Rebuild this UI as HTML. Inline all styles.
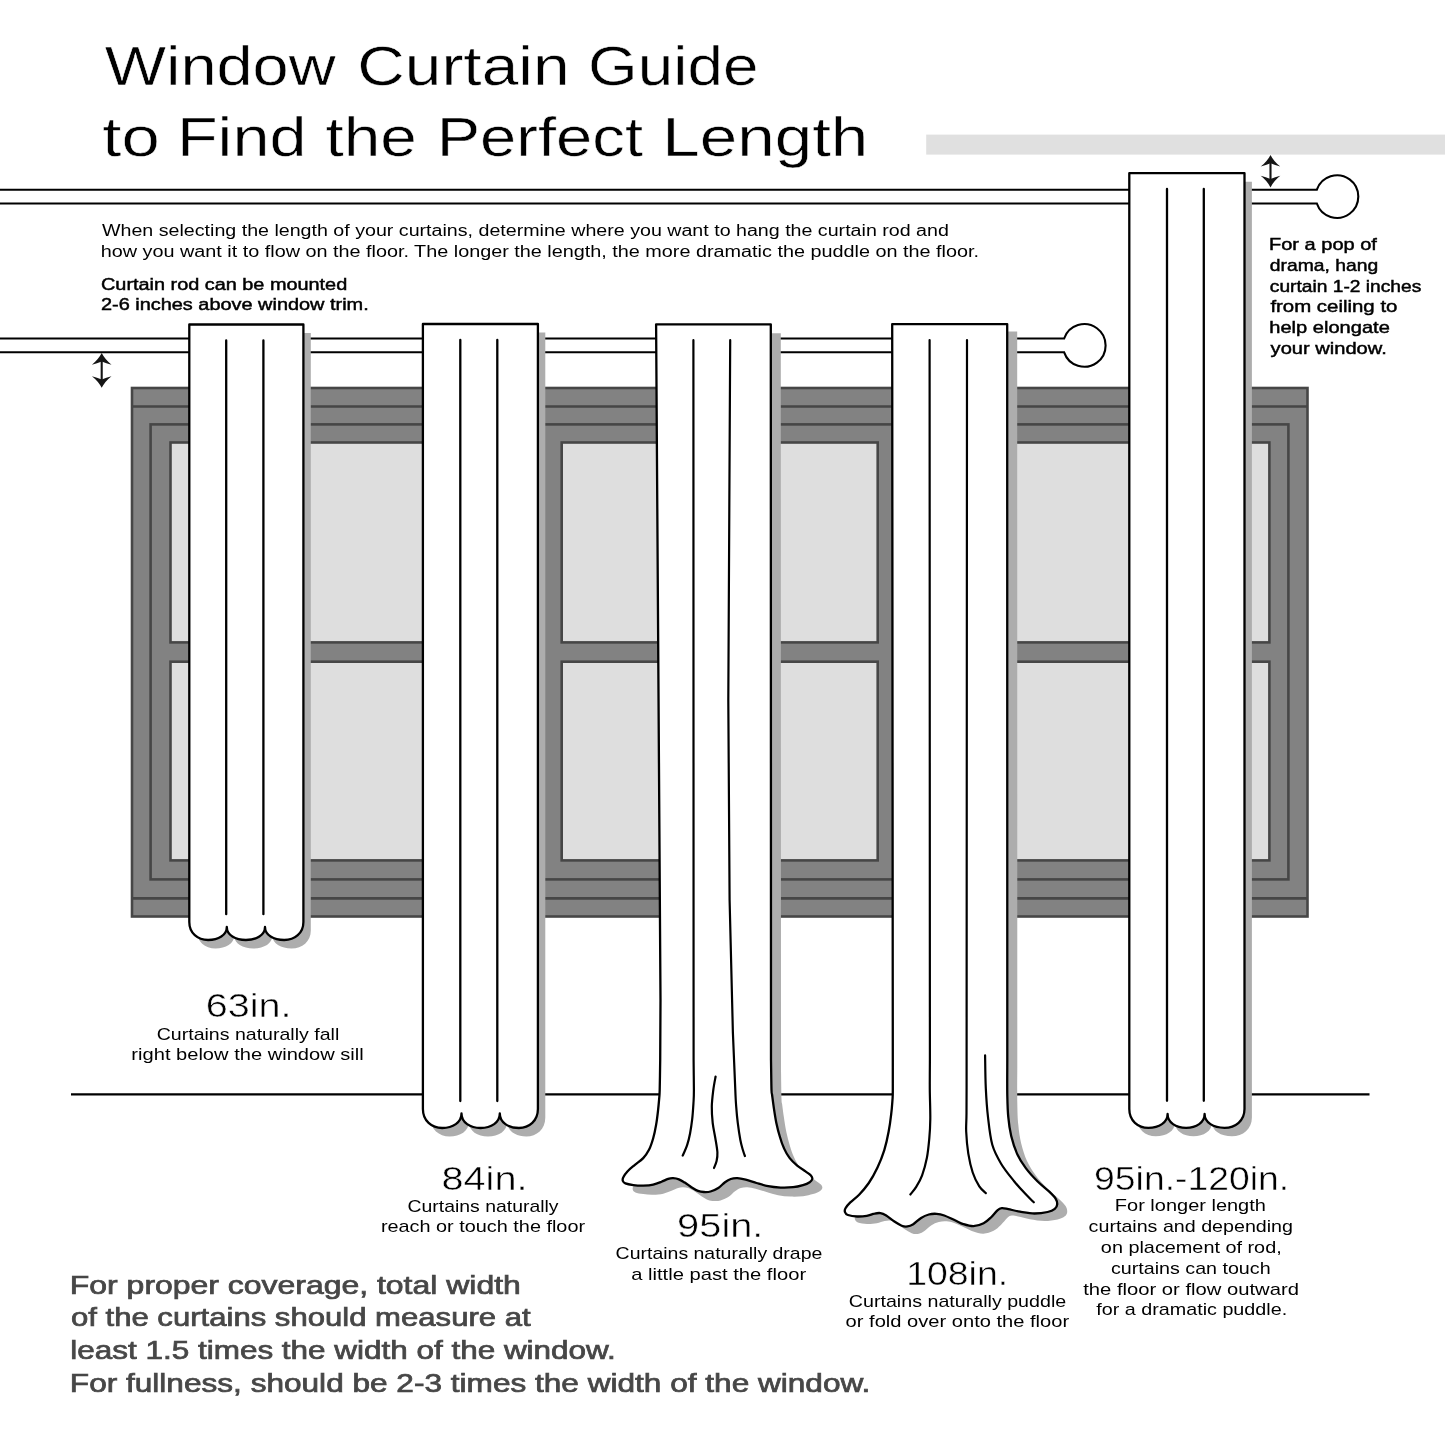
<!DOCTYPE html>
<html><head><meta charset="utf-8"><title>Window Curtain Guide</title>
<style>
html,body{margin:0;padding:0;background:#fff}
body{width:1445px;height:1445px;overflow:hidden}
svg{display:block;will-change:transform}
text{font-family:"Liberation Sans",sans-serif}
</style></head><body>
<svg width="1445" height="1445" viewBox="0 0 1445 1445">
<rect width="1445" height="1445" fill="#fff"/>
<rect x="926.2" y="134.6" width="520" height="20" fill="#e0e0e0"/>
<g fill="#828282" stroke="#464646" stroke-width="2.6">
<rect x="132" y="388" width="1175.5" height="528.5"/>
<path d="M132,406.5 H1307.5 M132,898.4 H1307.5" fill="none"/>
<rect x="150.6" y="424.4" width="1137.8" height="455.0"/>
</g>
<g fill="#dedede" stroke="#464646" stroke-width="2.6">
<rect x="170.5" y="442.5" width="370.5" height="199.9"/>
<rect x="170.5" y="661.7" width="370.5" height="198.7"/>
<rect x="561.7" y="442.5" width="316.0" height="199.9"/>
<rect x="561.7" y="661.7" width="316.0" height="198.7"/>
<rect x="898.0" y="442.5" width="371.4" height="199.9"/>
<rect x="898.0" y="661.7" width="371.4" height="198.7"/>
</g>
<path d="M71,1094.4 H1369.5" stroke="#000" stroke-width="2.1" fill="none"/>
<path d="M-5,189.7 H1316.85 A21.3,21.3 0 1 1 1316.85,203.5 H-5" fill="#fff" stroke="#000" stroke-width="2.1"/>
<path d="M-5,338.5 H1064.15 A21.3,21.3 0 1 1 1064.15,352.3 H-5" fill="#fff" stroke="#000" stroke-width="2.1"/>
<path d="M189.3,324.5 V922.0 C189.3,933.2 197.7,940.0 208.1,940.0 C218.4,940.0 226.8,935.1 226.8,927.0 C226.8,935.1 235.4,940.0 245.9,940.0 C256.4,940.0 265.0,935.1 265.0,927.0 C265.0,935.1 273.6,940.0 284.2,940.0 C294.8,940.0 303.4,933.2 303.4,922.0 V324.5 Z" fill="#adadad" transform="translate(7.4,8.5)"/>
<path d="M189.3,324.5 V922.0 C189.3,933.2 197.7,940.0 208.1,940.0 C218.4,940.0 226.8,935.1 226.8,927.0 C226.8,935.1 235.4,940.0 245.9,940.0 C256.4,940.0 265.0,935.1 265.0,927.0 C265.0,935.1 273.6,940.0 284.2,940.0 C294.8,940.0 303.4,933.2 303.4,922.0 V324.5 Z" fill="#fff" stroke="#000" stroke-width="2.3" stroke-linejoin="round"/>
<path d="M226.2,340.4 V914.2 M263.4,340.4 V914.2" fill="none" stroke="#000" stroke-width="2.3" stroke-linecap="round"/>
<path d="M422.9,324.0 V1109.0 C422.9,1120.8 431.6,1128.0 442.2,1128.0 C452.8,1128.0 461.5,1122.5 461.5,1113.5 C461.5,1122.5 470.1,1128.0 480.6,1128.0 C491.2,1128.0 499.8,1122.5 499.8,1113.5 C499.8,1122.5 508.4,1128.0 518.9,1128.0 C529.3,1128.0 537.9,1120.8 537.9,1109.0 V324.0 Z" fill="#adadad" transform="translate(7.4,8.5)"/>
<path d="M422.9,324.0 V1109.0 C422.9,1120.8 431.6,1128.0 442.2,1128.0 C452.8,1128.0 461.5,1122.5 461.5,1113.5 C461.5,1122.5 470.1,1128.0 480.6,1128.0 C491.2,1128.0 499.8,1122.5 499.8,1113.5 C499.8,1122.5 508.4,1128.0 518.9,1128.0 C529.3,1128.0 537.9,1120.8 537.9,1109.0 V324.0 Z" fill="#fff" stroke="#000" stroke-width="2.3" stroke-linejoin="round"/>
<path d="M460.3,340.0 V1101.0 M497.3,340.0 V1101.0" fill="none" stroke="#000" stroke-width="2.3" stroke-linecap="round"/>
<path d="M656.1,324.3 H770.8 L771,1060 C771.1,1065.0 771.3,1084.2 771.5,1090.0 C771.7,1095.8 771.7,1092.0 772.1,1095.0 C772.5,1098.0 773.2,1103.6 773.9,1108.3 C774.6,1113.0 775.4,1118.5 776.4,1123.2 C777.4,1127.9 778.5,1132.3 779.8,1136.5 C781.0,1140.7 782.2,1144.5 783.9,1148.1 C785.5,1151.7 787.5,1155.2 789.7,1158.1 C791.9,1161.0 794.6,1163.4 797.2,1165.6 C799.8,1167.8 803.2,1169.8 805.5,1171.4 C807.8,1173.1 809.8,1174.2 810.9,1175.5 C812.0,1176.8 812.5,1177.8 812.3,1178.9 C812.1,1180.0 811.2,1181.2 809.7,1182.2 C808.2,1183.2 805.8,1184.3 803.0,1185.1 C800.2,1185.9 796.8,1186.8 793.1,1187.2 C789.4,1187.6 784.8,1187.8 780.6,1187.6 C776.4,1187.4 772.1,1187.0 768.1,1186.2 C764.1,1185.4 760.2,1184.1 756.5,1183.0 C752.8,1181.9 748.9,1180.5 745.7,1179.7 C742.5,1178.9 739.9,1178.3 737.4,1178.2 C734.9,1178.1 732.9,1178.3 730.8,1179.0 C728.7,1179.7 727.1,1180.7 725.0,1182.2 C722.9,1183.7 720.7,1186.5 718.3,1188.0 C715.9,1189.5 712.9,1190.8 710.5,1191.5 C708.1,1192.2 706.0,1192.1 703.9,1192.0 C701.8,1191.9 700.1,1191.7 698.0,1190.9 C695.9,1190.1 693.6,1188.6 691.4,1187.2 C689.2,1185.8 686.9,1183.9 684.8,1182.6 C682.7,1181.3 680.8,1180.0 678.9,1179.3 C677.0,1178.6 674.9,1178.3 673.1,1178.2 C671.3,1178.1 670.0,1178.3 668.1,1178.9 C666.2,1179.5 664.0,1180.8 661.5,1181.8 C659.0,1182.8 656.2,1184.0 653.2,1184.7 C650.2,1185.4 646.5,1185.6 643.2,1185.7 C639.9,1185.8 636.3,1185.5 633.3,1185.1 C630.3,1184.7 627.1,1184.1 625.4,1183.4 C623.7,1182.7 623.2,1182.0 622.9,1181.0 C622.5,1180.0 622.5,1178.8 623.3,1177.2 C624.0,1175.6 625.5,1173.5 627.4,1171.4 C629.3,1169.3 632.3,1167.0 634.9,1164.8 C637.5,1162.6 640.9,1160.6 643.2,1158.1 C645.6,1155.6 647.3,1153.1 649.0,1149.8 C650.7,1146.5 652.0,1142.3 653.2,1138.2 C654.4,1134.1 655.3,1129.5 656.1,1124.9 C656.9,1120.3 657.5,1115.2 658.0,1110.8 C658.5,1106.4 658.9,1101.8 659.2,1098.3 C659.5,1094.8 659.5,1096.4 659.7,1090.0 C659.9,1083.6 660.1,1065.0 660.2,1060.0 L660.5,1000 Z" fill="#adadad" transform="translate(10,9)"/>
<path d="M656.1,324.3 H770.8 L771,1060 C771.1,1065.0 771.3,1084.2 771.5,1090.0 C771.7,1095.8 771.7,1092.0 772.1,1095.0 C772.5,1098.0 773.2,1103.6 773.9,1108.3 C774.6,1113.0 775.4,1118.5 776.4,1123.2 C777.4,1127.9 778.5,1132.3 779.8,1136.5 C781.0,1140.7 782.2,1144.5 783.9,1148.1 C785.5,1151.7 787.5,1155.2 789.7,1158.1 C791.9,1161.0 794.6,1163.4 797.2,1165.6 C799.8,1167.8 803.2,1169.8 805.5,1171.4 C807.8,1173.1 809.8,1174.2 810.9,1175.5 C812.0,1176.8 812.5,1177.8 812.3,1178.9 C812.1,1180.0 811.2,1181.2 809.7,1182.2 C808.2,1183.2 805.8,1184.3 803.0,1185.1 C800.2,1185.9 796.8,1186.8 793.1,1187.2 C789.4,1187.6 784.8,1187.8 780.6,1187.6 C776.4,1187.4 772.1,1187.0 768.1,1186.2 C764.1,1185.4 760.2,1184.1 756.5,1183.0 C752.8,1181.9 748.9,1180.5 745.7,1179.7 C742.5,1178.9 739.9,1178.3 737.4,1178.2 C734.9,1178.1 732.9,1178.3 730.8,1179.0 C728.7,1179.7 727.1,1180.7 725.0,1182.2 C722.9,1183.7 720.7,1186.5 718.3,1188.0 C715.9,1189.5 712.9,1190.8 710.5,1191.5 C708.1,1192.2 706.0,1192.1 703.9,1192.0 C701.8,1191.9 700.1,1191.7 698.0,1190.9 C695.9,1190.1 693.6,1188.6 691.4,1187.2 C689.2,1185.8 686.9,1183.9 684.8,1182.6 C682.7,1181.3 680.8,1180.0 678.9,1179.3 C677.0,1178.6 674.9,1178.3 673.1,1178.2 C671.3,1178.1 670.0,1178.3 668.1,1178.9 C666.2,1179.5 664.0,1180.8 661.5,1181.8 C659.0,1182.8 656.2,1184.0 653.2,1184.7 C650.2,1185.4 646.5,1185.6 643.2,1185.7 C639.9,1185.8 636.3,1185.5 633.3,1185.1 C630.3,1184.7 627.1,1184.1 625.4,1183.4 C623.7,1182.7 623.2,1182.0 622.9,1181.0 C622.5,1180.0 622.5,1178.8 623.3,1177.2 C624.0,1175.6 625.5,1173.5 627.4,1171.4 C629.3,1169.3 632.3,1167.0 634.9,1164.8 C637.5,1162.6 640.9,1160.6 643.2,1158.1 C645.6,1155.6 647.3,1153.1 649.0,1149.8 C650.7,1146.5 652.0,1142.3 653.2,1138.2 C654.4,1134.1 655.3,1129.5 656.1,1124.9 C656.9,1120.3 657.5,1115.2 658.0,1110.8 C658.5,1106.4 658.9,1101.8 659.2,1098.3 C659.5,1094.8 659.5,1096.4 659.7,1090.0 C659.9,1083.6 660.1,1065.0 660.2,1060.0 L660.5,1000 Z" fill="#fff" stroke="#000" stroke-width="2.3" stroke-linejoin="round"/>
<g fill="none" stroke="#000" stroke-width="2.2" stroke-linecap="round">
<path d="M693.4,340.2 L693.6,1060 C693.6,1065.0 693.9,1082.9 693.9,1090.0 C693.9,1097.1 693.8,1097.7 693.5,1102.5 C693.2,1107.3 692.8,1114.0 692.2,1119.1 C691.6,1124.2 690.9,1128.9 690.1,1133.2 C689.3,1137.5 688.4,1141.1 687.2,1144.8 C686.0,1148.5 683.5,1153.8 682.7,1155.6"/>
<path d="M730.2,340.2 L728.3,700 L729.6,900 L732.9,1032.9 C733.3,1042.4 734.8,1077.7 735.3,1090.0 C735.8,1102.3 735.8,1101.1 736.2,1106.6 C736.6,1112.1 737.1,1117.7 737.8,1123.2 C738.5,1128.7 739.5,1135.4 740.3,1139.8 C741.1,1144.2 742.0,1147.1 742.8,1149.8 C743.6,1152.5 744.5,1155.0 744.9,1156.0"/>
<path d="M715.6,1076.5 C715.2,1078.8 713.9,1085.0 713.3,1090.0 C712.7,1095.0 711.9,1101.1 711.8,1106.6 C711.7,1112.1 712.1,1117.8 712.7,1123.0 C713.3,1128.2 714.5,1133.1 715.3,1138.0 C716.1,1142.9 717.2,1148.5 717.4,1152.3 C717.6,1156.1 717.2,1158.4 716.6,1161.0 C716.0,1163.6 714.4,1166.8 714.0,1168.0"/>
</g>
<path d="M892.2,324.1 H1007.2 L1007.3,1060 C1007.3,1065.9 1007.1,1085.9 1007.3,1095.4 C1007.5,1104.9 1007.6,1110.4 1008.3,1117.2 C1008.9,1124.0 1009.8,1130.0 1011.2,1136.1 C1012.7,1142.2 1014.6,1148.3 1017.0,1153.6 C1019.4,1158.9 1022.4,1163.5 1025.8,1168.1 C1029.2,1172.7 1033.5,1177.3 1037.4,1181.2 C1041.3,1185.1 1046.0,1188.5 1049.0,1191.4 C1052.0,1194.3 1054.2,1196.4 1055.6,1198.6 C1057.0,1200.8 1057.3,1202.7 1057.2,1204.4 C1057.1,1206.1 1056.4,1207.5 1054.8,1208.8 C1053.2,1210.1 1051.0,1211.2 1047.6,1212.0 C1044.2,1212.8 1039.1,1213.5 1034.5,1213.5 C1029.9,1213.5 1024.4,1212.4 1020.0,1211.7 C1015.6,1211.0 1011.3,1209.7 1008.3,1209.1 C1005.3,1208.5 1003.6,1207.9 1001.8,1208.1 C1000.0,1208.3 999.2,1208.7 997.4,1210.3 C995.6,1211.9 993.2,1215.3 990.9,1217.5 C988.6,1219.7 986.5,1221.8 983.6,1223.3 C980.7,1224.8 976.8,1226.1 973.4,1226.2 C970.0,1226.3 966.4,1225.1 963.3,1224.1 C960.2,1223.1 958.2,1221.7 955.0,1220.3 C951.8,1218.9 947.4,1216.6 944.3,1215.5 C941.2,1214.4 939.2,1214.0 936.6,1213.8 C934.0,1213.6 931.4,1213.8 928.8,1214.5 C926.2,1215.2 923.7,1216.3 921.1,1217.9 C918.5,1219.5 915.6,1222.8 913.3,1224.2 C911.0,1225.6 909.4,1226.2 907.5,1226.4 C905.6,1226.7 904.0,1226.6 901.7,1225.7 C899.5,1224.8 896.6,1223.0 894.0,1221.3 C891.4,1219.6 888.5,1216.9 886.2,1215.5 C883.9,1214.1 882.3,1213.4 880.4,1213.1 C878.5,1212.8 876.9,1213.1 874.6,1213.6 C872.3,1214.0 869.7,1215.3 866.8,1215.8 C863.9,1216.3 860.2,1216.6 857.1,1216.5 C854.0,1216.4 849.9,1215.7 847.9,1215.0 C845.9,1214.3 845.4,1213.2 845.0,1212.1 C844.6,1211.0 844.6,1209.8 845.5,1208.2 C846.4,1206.6 848.0,1204.7 850.3,1202.4 C852.6,1200.2 856.0,1197.9 859.1,1194.7 C862.2,1191.5 865.7,1187.5 868.8,1183.0 C871.9,1178.5 874.9,1173.0 877.5,1167.5 C880.1,1162.0 882.4,1156.1 884.3,1150.1 C886.1,1144.1 887.5,1137.7 888.6,1131.7 C889.8,1125.7 890.6,1119.5 891.2,1114.2 C891.9,1108.9 892.2,1103.7 892.5,1099.7 C892.8,1095.7 892.8,1096.6 892.8,1090.0 C892.8,1083.4 892.8,1065.0 892.8,1060.0 Z" fill="#adadad" transform="translate(10,7.5)"/>
<path d="M892.2,324.1 H1007.2 L1007.3,1060 C1007.3,1065.9 1007.1,1085.9 1007.3,1095.4 C1007.5,1104.9 1007.6,1110.4 1008.3,1117.2 C1008.9,1124.0 1009.8,1130.0 1011.2,1136.1 C1012.7,1142.2 1014.6,1148.3 1017.0,1153.6 C1019.4,1158.9 1022.4,1163.5 1025.8,1168.1 C1029.2,1172.7 1033.5,1177.3 1037.4,1181.2 C1041.3,1185.1 1046.0,1188.5 1049.0,1191.4 C1052.0,1194.3 1054.2,1196.4 1055.6,1198.6 C1057.0,1200.8 1057.3,1202.7 1057.2,1204.4 C1057.1,1206.1 1056.4,1207.5 1054.8,1208.8 C1053.2,1210.1 1051.0,1211.2 1047.6,1212.0 C1044.2,1212.8 1039.1,1213.5 1034.5,1213.5 C1029.9,1213.5 1024.4,1212.4 1020.0,1211.7 C1015.6,1211.0 1011.3,1209.7 1008.3,1209.1 C1005.3,1208.5 1003.6,1207.9 1001.8,1208.1 C1000.0,1208.3 999.2,1208.7 997.4,1210.3 C995.6,1211.9 993.2,1215.3 990.9,1217.5 C988.6,1219.7 986.5,1221.8 983.6,1223.3 C980.7,1224.8 976.8,1226.1 973.4,1226.2 C970.0,1226.3 966.4,1225.1 963.3,1224.1 C960.2,1223.1 958.2,1221.7 955.0,1220.3 C951.8,1218.9 947.4,1216.6 944.3,1215.5 C941.2,1214.4 939.2,1214.0 936.6,1213.8 C934.0,1213.6 931.4,1213.8 928.8,1214.5 C926.2,1215.2 923.7,1216.3 921.1,1217.9 C918.5,1219.5 915.6,1222.8 913.3,1224.2 C911.0,1225.6 909.4,1226.2 907.5,1226.4 C905.6,1226.7 904.0,1226.6 901.7,1225.7 C899.5,1224.8 896.6,1223.0 894.0,1221.3 C891.4,1219.6 888.5,1216.9 886.2,1215.5 C883.9,1214.1 882.3,1213.4 880.4,1213.1 C878.5,1212.8 876.9,1213.1 874.6,1213.6 C872.3,1214.0 869.7,1215.3 866.8,1215.8 C863.9,1216.3 860.2,1216.6 857.1,1216.5 C854.0,1216.4 849.9,1215.7 847.9,1215.0 C845.9,1214.3 845.4,1213.2 845.0,1212.1 C844.6,1211.0 844.6,1209.8 845.5,1208.2 C846.4,1206.6 848.0,1204.7 850.3,1202.4 C852.6,1200.2 856.0,1197.9 859.1,1194.7 C862.2,1191.5 865.7,1187.5 868.8,1183.0 C871.9,1178.5 874.9,1173.0 877.5,1167.5 C880.1,1162.0 882.4,1156.1 884.3,1150.1 C886.1,1144.1 887.5,1137.7 888.6,1131.7 C889.8,1125.7 890.6,1119.5 891.2,1114.2 C891.9,1108.9 892.2,1103.7 892.5,1099.7 C892.8,1095.7 892.8,1096.6 892.8,1090.0 C892.8,1083.4 892.8,1065.0 892.8,1060.0 Z" fill="#fff" stroke="#000" stroke-width="2.3" stroke-linejoin="round"/>
<g fill="none" stroke="#000" stroke-width="2.2" stroke-linecap="round">
<path d="M929.6,340 L929.9,1060 C929.9,1065.0 929.7,1080.2 929.8,1090.0 C929.9,1099.8 930.4,1111.0 930.3,1119.1 C930.2,1127.2 929.9,1132.0 929.3,1138.4 C928.7,1144.9 928.1,1151.7 926.9,1157.8 C925.7,1163.9 923.9,1170.4 922.1,1175.3 C920.3,1180.2 918.2,1183.7 916.2,1186.9 C914.2,1190.1 911.4,1193.2 910.4,1194.5"/>
<path d="M967,340 L966.6,1060 C966.6,1068.8 966.6,1100.9 966.5,1112.9 C966.4,1124.9 965.9,1125.0 966.2,1131.8 C966.5,1138.6 967.2,1146.8 968.3,1153.6 C969.4,1160.4 970.9,1167.0 972.7,1172.5 C974.5,1178.0 977.1,1182.9 979.3,1186.3 C981.5,1189.7 984.7,1192.0 985.8,1193.1"/>
<path d="M985.1,1055.4 C985.2,1060.9 985.3,1077.8 985.8,1088.1 C986.3,1098.4 986.9,1107.8 988.0,1117.2 C989.1,1126.7 990.1,1137.0 992.3,1144.8 C994.5,1152.5 997.5,1157.6 1001.1,1163.7 C1004.7,1169.8 1010.0,1176.1 1014.1,1181.2 C1018.2,1186.3 1022.5,1190.8 1025.8,1194.3 C1029.1,1197.8 1032.5,1201.0 1033.8,1202.3"/>
</g>
<path d="M1129.3,173.2 V1109.0 C1129.3,1120.7 1137.9,1127.8 1148.4,1127.8 C1159.0,1127.8 1167.6,1122.6 1167.6,1114.0 C1167.6,1122.6 1175.9,1127.8 1186.1,1127.8 C1196.3,1127.8 1204.6,1122.6 1204.6,1114.0 C1204.6,1122.6 1213.6,1127.8 1224.5,1127.8 C1235.5,1127.8 1244.5,1120.7 1244.5,1109.0 V173.2 Z" fill="#adadad" transform="translate(7.4,8.5)"/>
<path d="M1129.3,173.2 V1109.0 C1129.3,1120.7 1137.9,1127.8 1148.4,1127.8 C1159.0,1127.8 1167.6,1122.6 1167.6,1114.0 C1167.6,1122.6 1175.9,1127.8 1186.1,1127.8 C1196.3,1127.8 1204.6,1122.6 1204.6,1114.0 C1204.6,1122.6 1213.6,1127.8 1224.5,1127.8 C1235.5,1127.8 1244.5,1120.7 1244.5,1109.0 V173.2 Z" fill="#fff" stroke="#000" stroke-width="2.3" stroke-linejoin="round"/>
<path d="M1167.0,189.0 V1100.8 M1203.8,189.0 V1100.8" fill="none" stroke="#000" stroke-width="2.3" stroke-linecap="round"/>
<path d="M101.7,357.1 V383.8" stroke="#151515" stroke-width="2.1" fill="none"/><path d="M101.7,353.1 Q105.1,359.7 111.5,364.7 Q106.2,363.2 101.7,361.4 Q97.2,363.2 91.9,364.7 Q98.3,359.7 101.7,353.1 Z M101.7,387.8 Q105.1,381.2 111.5,376.2 Q106.2,377.7 101.7,379.5 Q97.2,377.7 91.9,376.2 Q98.3,381.2 101.7,387.8 Z" fill="#151515"/>
<path d="M1270.5,159.0 V183.4" stroke="#151515" stroke-width="2.1" fill="none"/><path d="M1270.5,155.0 Q1273.9,161.6 1280.3,166.6 Q1275.0,165.1 1270.5,163.3 Q1266.0,165.1 1260.7,166.6 Q1267.1,161.6 1270.5,155.0 Z M1270.5,187.4 Q1273.9,180.8 1280.3,175.8 Q1275.0,177.3 1270.5,179.1 Q1266.0,177.3 1260.7,175.8 Q1267.1,180.8 1270.5,187.4 Z" fill="#151515"/>
<g opacity="0.996">
<text x="104.70" y="85.4" font-size="55.6" fill="#000" textLength="230.89" lengthAdjust="spacingAndGlyphs" stroke="#fff" stroke-width="0.50">Window</text>
<text x="357.21" y="85.4" font-size="55.6" fill="#000" textLength="212.36" lengthAdjust="spacingAndGlyphs" stroke="#fff" stroke-width="0.50">Curtain</text>
<text x="588.11" y="85.4" font-size="55.6" fill="#000" textLength="170.37" lengthAdjust="spacingAndGlyphs" stroke="#fff" stroke-width="0.50">Guide</text>
<text x="102.27" y="156.0" font-size="55.6" fill="#000" textLength="57.42" lengthAdjust="spacingAndGlyphs" stroke="#fff" stroke-width="0.50">to</text>
<text x="176.98" y="156.0" font-size="55.6" fill="#000" textLength="129.44" lengthAdjust="spacingAndGlyphs" stroke="#fff" stroke-width="0.50">Find</text>
<text x="325.51" y="156.0" font-size="55.6" fill="#000" textLength="91.43" lengthAdjust="spacingAndGlyphs" stroke="#fff" stroke-width="0.50">the</text>
<text x="436.69" y="156.0" font-size="55.6" fill="#000" textLength="206.31" lengthAdjust="spacingAndGlyphs" stroke="#fff" stroke-width="0.50">Perfect</text>
<text x="662.31" y="156.0" font-size="55.6" fill="#000" textLength="206.04" lengthAdjust="spacingAndGlyphs" stroke="#fff" stroke-width="0.50">Length</text>
<text x="102.00" y="236.0" font-size="16.0" fill="#000" textLength="846.83" lengthAdjust="spacingAndGlyphs">When selecting the length of your curtains, determine where you want to hang the curtain rod and</text>
<text x="100.71" y="256.6" font-size="16.0" fill="#000" textLength="878.23" lengthAdjust="spacingAndGlyphs">how you want it to flow on the floor. The longer the length, the more dramatic the puddle on the floor.</text>
<text x="101.01" y="289.7" font-size="16.0" fill="#000" textLength="246.22" lengthAdjust="spacingAndGlyphs" stroke="#000" stroke-width="0.45">Curtain rod can be mounted</text>
<text x="101.00" y="309.9" font-size="16.0" fill="#000" textLength="267.71" lengthAdjust="spacingAndGlyphs" stroke="#000" stroke-width="0.45">2-6 inches above window trim.</text>
<text x="1269.00" y="250.0" font-size="16.2" fill="#000" textLength="107.95" lengthAdjust="spacingAndGlyphs" stroke="#000" stroke-width="0.45">For a pop of</text>
<text x="1269.83" y="270.8" font-size="16.2" fill="#000" textLength="108.33" lengthAdjust="spacingAndGlyphs" stroke="#000" stroke-width="0.45">drama, hang</text>
<text x="1269.83" y="291.6" font-size="16.2" fill="#000" textLength="151.41" lengthAdjust="spacingAndGlyphs" stroke="#000" stroke-width="0.45">curtain 1-2 inches</text>
<text x="1270.40" y="312.4" font-size="16.2" fill="#000" textLength="127.02" lengthAdjust="spacingAndGlyphs" stroke="#000" stroke-width="0.45">from ceiling to</text>
<text x="1269.30" y="333.3" font-size="16.2" fill="#000" textLength="120.52" lengthAdjust="spacingAndGlyphs" stroke="#000" stroke-width="0.45">help elongate</text>
<text x="1270.60" y="354.0" font-size="16.2" fill="#000" textLength="116.13" lengthAdjust="spacingAndGlyphs" stroke="#000" stroke-width="0.45">your window.</text>
<text x="205.72" y="1017.1" font-size="34.0" fill="#000" textLength="85.78" lengthAdjust="spacingAndGlyphs" stroke="#fff" stroke-width="0.50">63in.</text>
<text x="156.72" y="1039.5" font-size="16.4" fill="#000" textLength="182.50" lengthAdjust="spacingAndGlyphs">Curtains naturally fall</text>
<text x="131.39" y="1059.7" font-size="16.4" fill="#000" textLength="232.34" lengthAdjust="spacingAndGlyphs">right below the window sill</text>
<text x="441.51" y="1190.4" font-size="34.0" fill="#000" textLength="86.00" lengthAdjust="spacingAndGlyphs" stroke="#fff" stroke-width="0.50">84in.</text>
<text x="407.53" y="1211.8" font-size="16.4" fill="#000" textLength="151.00" lengthAdjust="spacingAndGlyphs">Curtains naturally</text>
<text x="380.91" y="1232.0" font-size="16.4" fill="#000" textLength="204.17" lengthAdjust="spacingAndGlyphs">reach or touch the floor</text>
<text x="677.11" y="1237.4" font-size="34.0" fill="#000" textLength="86.31" lengthAdjust="spacingAndGlyphs" stroke="#fff" stroke-width="0.50">95in.</text>
<text x="615.63" y="1259.2" font-size="16.4" fill="#000" textLength="206.69" lengthAdjust="spacingAndGlyphs">Curtains naturally drape</text>
<text x="631.19" y="1280.0" font-size="16.4" fill="#000" textLength="174.94" lengthAdjust="spacingAndGlyphs">a little past the floor</text>
<text x="906.19" y="1285.2" font-size="34.0" fill="#000" textLength="101.96" lengthAdjust="spacingAndGlyphs" stroke="#fff" stroke-width="0.50">108in.</text>
<text x="848.82" y="1307.0" font-size="16.4" fill="#000" textLength="217.41" lengthAdjust="spacingAndGlyphs">Curtains naturally puddle</text>
<text x="845.60" y="1327.4" font-size="16.4" fill="#000" textLength="223.56" lengthAdjust="spacingAndGlyphs">or fold over onto the floor</text>
<text x="1094.12" y="1189.9" font-size="34.0" fill="#000" textLength="195.00" lengthAdjust="spacingAndGlyphs" stroke="#fff" stroke-width="0.50">95in.-120in.</text>
<text x="1114.87" y="1211.3" font-size="16.4" fill="#000" textLength="151.04" lengthAdjust="spacingAndGlyphs">For longer length</text>
<text x="1088.63" y="1232.2" font-size="16.4" fill="#000" textLength="204.36" lengthAdjust="spacingAndGlyphs">curtains and depending</text>
<text x="1100.85" y="1253.0" font-size="16.4" fill="#000" textLength="180.87" lengthAdjust="spacingAndGlyphs">on placement of rod,</text>
<text x="1110.98" y="1273.6" font-size="16.4" fill="#000" textLength="159.63" lengthAdjust="spacingAndGlyphs">curtains can touch</text>
<text x="1083.23" y="1294.6" font-size="16.4" fill="#000" textLength="215.68" lengthAdjust="spacingAndGlyphs">the floor or flow outward</text>
<text x="1096.27" y="1314.8" font-size="16.4" fill="#000" textLength="190.86" lengthAdjust="spacingAndGlyphs">for a dramatic puddle.</text>
<text x="69.84" y="1293.5" font-size="26.0" fill="#474747" textLength="450.98" lengthAdjust="spacingAndGlyphs" stroke="#474747" stroke-width="0.73">For proper coverage, total width</text>
<text x="70.96" y="1326.4" font-size="26.0" fill="#474747" textLength="459.69" lengthAdjust="spacingAndGlyphs" stroke="#474747" stroke-width="0.73">of the curtains should measure at</text>
<text x="70.36" y="1359.2" font-size="26.0" fill="#474747" textLength="545.41" lengthAdjust="spacingAndGlyphs" stroke="#474747" stroke-width="0.73">least 1.5 times the width of the window.</text>
<text x="69.87" y="1392.0" font-size="26.0" fill="#474747" textLength="800.48" lengthAdjust="spacingAndGlyphs" stroke="#474747" stroke-width="0.73">For fullness, should be 2-3 times the width of the window.</text>
</g>
</svg>
</body></html>
